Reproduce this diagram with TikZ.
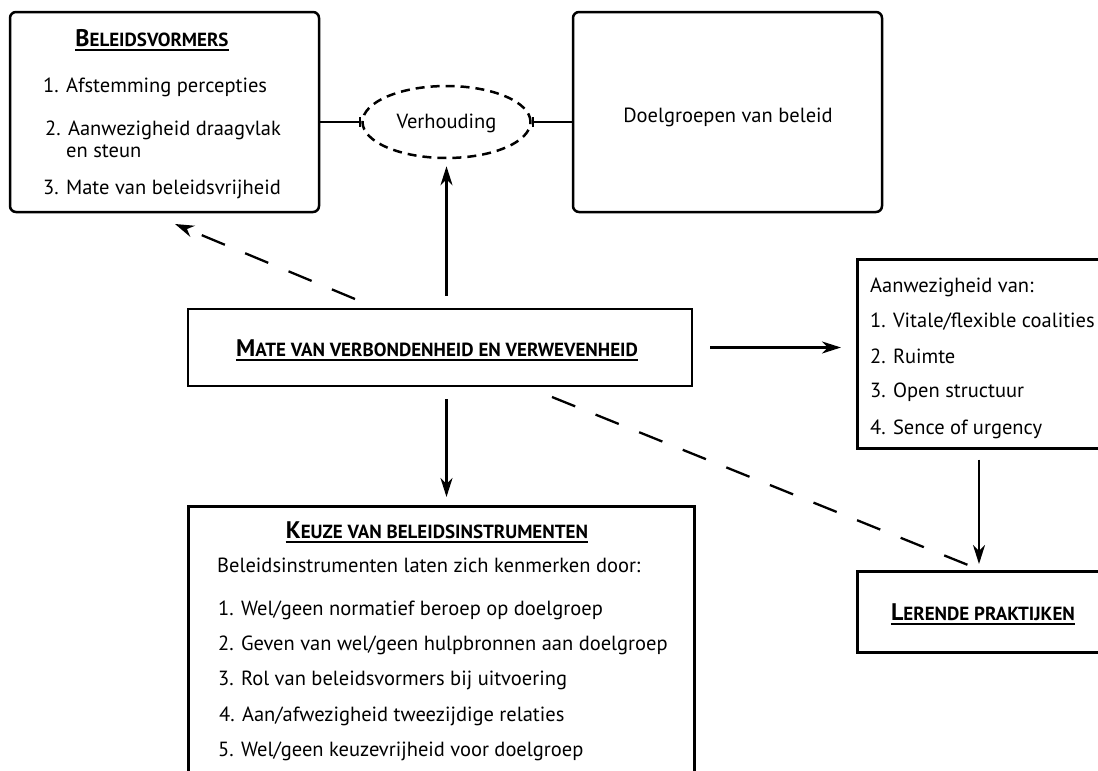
\documentclass[tikz,border=0pt]{standalone}
\usepackage{fontspec}
\setmainfont{PT Sans}
\usetikzlibrary{arrows.meta,shapes.geometric}
\newcommand{\fsc}[2]{#1{\fontsize{19}{21}\selectfont #2}}
\begin{document}
\begin{tikzpicture}[x=1pt,y=-1pt,
  box/.style={draw, line width=2.5pt, inner sep=0pt},
  rbox/.style={box, rounded corners=6pt},
  txt/.style={inner sep=0pt, anchor=base west, font=\fontsize{20.5}{24}\selectfont},
  ttl/.style={inner sep=0pt, anchor=base, font=\bfseries\fontsize{24}{28}\selectfont},
  conn/.style={line width=2.3pt},
  tip/.style={-{Stealth[length=19pt,width=12pt,inset=6pt]}},
  arr/.style={conn, tip},
  dsh/.style={line width=2.3pt, dash pattern=on 25pt off 22pt},
  ul/.style={line width=1.5pt}
]
\useasboundingbox (0,0) rectangle (1098,771);
\clip (0,0) rectangle (1098,771);

% boxes
\node[rbox, minimum width=309pt, minimum height=200pt] (bv) at (164.5,112) {};
\node[rbox, minimum width=309pt, minimum height=200pt] (dg) at (727.5,112) {};
\node[draw, ellipse, line width=2.5pt, dash pattern=on 9pt off 6pt, minimum width=168pt, minimum height=72pt, inner sep=0pt] (vh) at (446.5,122) {};
\node[box, minimum width=504pt, minimum height=77pt] (mv) at (440,347.5) {};
\node[box, minimum width=506pt, minimum height=300pt, anchor=north west] (kb) at (187,505) {};
\node[box, minimum width=300pt, minimum height=189pt, anchor=north west] (aw) at (856,258) {};
\node[box, minimum width=300pt, minimum height=81pt, anchor=north west] (lp) at (856,570) {};

% texts: Beleidsvormers
\node[ttl] (bvt) at (152,46) {\fsc{B}{ELEIDSVORMERS}};
\draw[ul] ([yshift=-4pt]bvt.base west) -- ([yshift=-4pt]bvt.base east);
\node[txt] (bv1) at (43,92) {1. Afstemming percepties};
\node[txt] (bv2) at (45,135) {2. Aanwezigheid draagvlak};
\node[txt] (bv2b) at (66,157) {en steun};
\node[txt] (bv3) at (43,194) {3. Mate van beleidsvrijheid};

% Verhouding, Doelgroepen
\node[inner sep=0pt, anchor=base, font=\fontsize{20.5}{24}\selectfont] (vht) at (446.5,128) {Verhouding};
\node[inner sep=0pt, anchor=base, font=\fontsize{20.5}{24}\selectfont] (dgt) at (728,122) {Doelgroepen van beleid};

% Mate
\node[ttl] (mvt) at (437,356) {\fsc{M}{ATE VAN VERBONDENHEID EN VERWEVENHEID}};
\draw[ul] ([yshift=-4pt]mvt.base west) -- ([yshift=-4pt]mvt.base east);

% Aanwezigheid
\node[txt] (aw0) at (870,292) {Aanwezigheid van:};
\node[txt] (aw1) at (870,327) {1. Vitale/flexible coalities};
\node[txt] (aw2) at (870,363) {2. Ruimte};
\node[txt] (aw3) at (870,397) {3. Open structuur};
\node[txt] (aw4) at (870,434) {4. Sence of urgency};

% Lerende praktijken
\node[ttl] (lpt) at (983,620) {\fsc{L}{ERENDE PRAKTIJKEN}};
\draw[ul] ([yshift=-4pt]lpt.base west) -- ([yshift=-4pt]lpt.base east);

% Keuze
\node[ttl] (kbt) at (437,538) {\fsc{K}{EUZE VAN BELEIDSINSTRUMENTEN}};
\draw[ul] ([yshift=-4pt]kbt.base west) -- ([yshift=-4pt]kbt.base east);
\node[txt] (kb0) at (217,572) {Beleidsinstrumenten laten zich kenmerken door:};
\node[txt] (kb1) at (218,615) {1. Wel/geen normatief beroep op doelgroep};
\node[txt] (kb2) at (218,650) {2. Geven van wel/geen hulpbronnen aan doelgroep};
\node[txt] (kb3) at (218,685) {3. Rol van beleidsvormers bij uitvoering};
\node[txt] (kb4) at (219,721) {4. Aan/afwezigheid tweezijdige relaties};
\node[txt] (kb5) at (218,756) {5. Wel/geen keuzevrijheid voor doelgroep};

% connectors
\draw[conn, -{Bar[width=10pt]}] (vh.west -| bv.east) -- (vh.west);
\draw[conn, {Bar[width=10pt]}-] (vh.east) -- (vh.east -| dg.west);
\draw[arr, shorten <=12pt, shorten >=7pt] (vh.south |- mv.north) -- (vh.south);
\draw[arr, shorten <=12pt, shorten >=8pt] (vh.south |- mv.south) -- (vh.south |- kb.north);
\draw[arr, shorten <=17pt, shorten >=15pt] (mv.east) -- (mv.east -| aw.west);
\coordinate (c1) at (979,0);
\draw[arr, shorten <=10pt, shorten >=6pt] (c1 |- aw.south) -- (c1 |- lp.north);
\coordinate (d1) at (355,299);
\coordinate (d2) at (175,224);
\draw[dsh, tip] (d1) -- (d2);
\coordinate (e1) at (552,397);
\coordinate (e2) at (968,565);
\draw[dsh] (e1) -- (e2);
\end{tikzpicture}
\end{document}
